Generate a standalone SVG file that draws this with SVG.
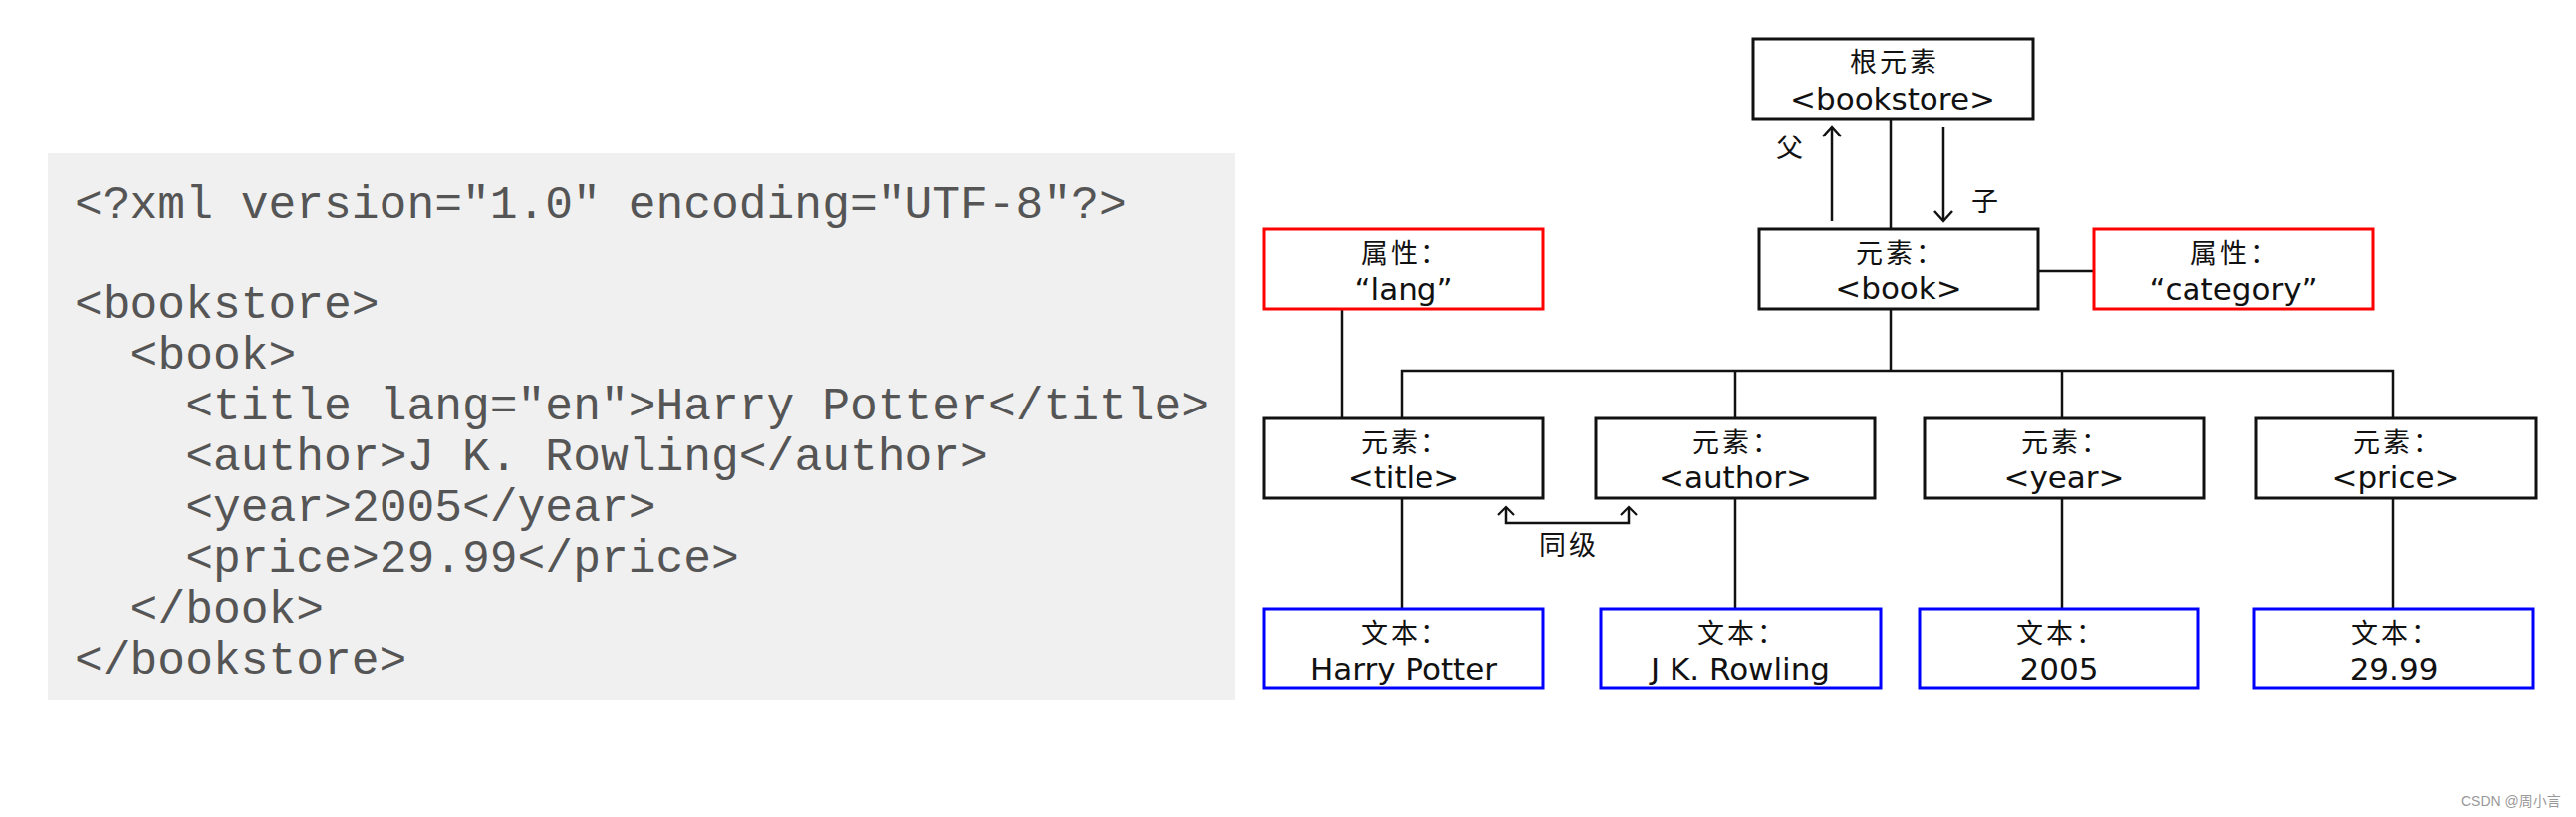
<svg xmlns="http://www.w3.org/2000/svg" width="2586" height="820" viewBox="0 0 2586 820">
<defs>
<style>
.code{font-family:"Liberation Mono","Courier New",monospace;font-size:46.3px;fill:#555555;}
.box{fill:#ffffff;stroke:#111111;stroke-width:3;}
.attr{fill:#ffffff;stroke:#ff0000;stroke-width:3;}
.txt{fill:#ffffff;stroke:#0000ff;stroke-width:3;}
.cjk{font-family:"Noto Sans CJK SC","DejaVu Sans",sans-serif;font-size:27px;letter-spacing:3px;fill:#111111;text-anchor:middle;}
.lat{font-family:"DejaVu Sans","Noto Sans CJK SC",sans-serif;font-size:31px;fill:#111111;text-anchor:middle;}
.ln{fill:none;stroke:#111111;stroke-width:2.5;}
.wm{font-family:"Liberation Sans","Noto Sans CJK SC",sans-serif;font-size:14px;fill:#999999;}
</style>
<marker id="arr" viewBox="-12 -12 24 24" refX="0" refY="0" markerUnits="userSpaceOnUse" markerWidth="24" markerHeight="24" orient="auto-start-reverse">
<path d="M-10,-9 L0,0 L-10,9" fill="none" stroke="#111111" stroke-width="2.5"/>
</marker>
<marker id="arrS" viewBox="-12 -12 24 24" refX="0" refY="0" markerUnits="userSpaceOnUse" markerWidth="24" markerHeight="24" orient="auto-start-reverse">
<path d="M-8,-8 L0,0 L-8,8" fill="none" stroke="#111111" stroke-width="2.2"/>
</marker>
</defs>
<rect x="0" y="0" width="2586" height="820" fill="#ffffff"/>

<g id="code">
<rect x="48" y="154" width="1192" height="549" fill="#f0f0f0"/>
<text class="code" x="75" y="219">&lt;?xml version="1.0" encoding="UTF-8"?&gt;</text>
<text class="code" x="75" y="319">&lt;bookstore&gt;</text>
<text class="code" x="130.6" y="370">&lt;book&gt;</text>
<text class="code" x="186.2" y="421">&lt;title lang="en"&gt;Harry Potter&lt;/title&gt;</text>
<text class="code" x="186.2" y="472">&lt;author&gt;J K. Rowling&lt;/author&gt;</text>
<text class="code" x="186.2" y="523">&lt;year&gt;2005&lt;/year&gt;</text>
<text class="code" x="186.2" y="574">&lt;price&gt;29.99&lt;/price&gt;</text>
<text class="code" x="130.6" y="625">&lt;/book&gt;</text>
<text class="code" x="75" y="676">&lt;/bookstore&gt;</text>
</g>

<g id="connectors">
<line class="ln" x1="1898" y1="119" x2="1898" y2="230"/>
<line class="ln" x1="1839" y1="222" x2="1839" y2="127" marker-end="url(#arr)"/>
<line class="ln" x1="1951" y1="127" x2="1951" y2="222" marker-end="url(#arr)"/>
<line class="ln" x1="2046" y1="272" x2="2102" y2="272"/>
<line class="ln" x1="1347" y1="310" x2="1347" y2="420"/>
<line class="ln" x1="1898" y1="310" x2="1898" y2="372"/>
<polyline class="ln" points="1407,420 1407,372 2402,372 2402,420"/>
<line class="ln" x1="1742" y1="372" x2="1742" y2="420"/>
<line class="ln" x1="2070" y1="372" x2="2070" y2="420"/>
<line class="ln" x1="1407" y1="500" x2="1407" y2="611"/>
<line class="ln" x1="1742" y1="500" x2="1742" y2="611"/>
<line class="ln" x1="2070" y1="500" x2="2070" y2="611"/>
<line class="ln" x1="2402" y1="500" x2="2402" y2="611"/>
<path class="ln" d="M1512,509 L1512,525 L1635,525 L1635,509" marker-start="url(#arrS)" marker-end="url(#arrS)"/>
<text class="cjk" x="1798" y="158">父</text>
<text class="cjk" x="1994" y="212">子</text>
<text class="cjk" x="1575" y="557">同级</text>
</g>

<g id="root">
<rect class="box" x="1760" y="39" width="281" height="80"/>
<text class="cjk" x="1902" y="72">根元素</text>
<text class="lat" x="1900" y="110">&lt;bookstore&gt;</text>
</g>
<g id="book">
<rect class="box" x="1766" y="230" width="280" height="80"/>
<text class="cjk" x="1908" y="264">元素：</text>
<text class="lat" x="1906" y="300">&lt;book&gt;</text>
</g>
<g id="attr-lang">
<rect class="attr" x="1269" y="230" width="280" height="80"/>
<text class="cjk" x="1411" y="264">属性：</text>
<text class="lat" x="1409" y="301">“lang”</text>
</g>
<g id="attr-category">
<rect class="attr" x="2102" y="230" width="280" height="80"/>
<text class="cjk" x="2244" y="264">属性：</text>
<text class="lat" x="2242" y="301">“category”</text>
</g>
<g id="el-title">
<rect class="box" x="1269" y="420" width="280" height="80"/>
<text class="cjk" x="1411" y="454">元素：</text>
<text class="lat" x="1409" y="490">&lt;title&gt;</text>
</g>
<g id="el-author">
<rect class="box" x="1602" y="420" width="280" height="80"/>
<text class="cjk" x="1744" y="454">元素：</text>
<text class="lat" x="1742" y="490">&lt;author&gt;</text>
</g>
<g id="el-year">
<rect class="box" x="1932" y="420" width="281" height="80"/>
<text class="cjk" x="2074" y="454">元素：</text>
<text class="lat" x="2072" y="490">&lt;year&gt;</text>
</g>
<g id="el-price">
<rect class="box" x="2265" y="420" width="281" height="80"/>
<text class="cjk" x="2407" y="454">元素：</text>
<text class="lat" x="2405" y="490">&lt;price&gt;</text>
</g>
<g id="txt-title">
<rect class="txt" x="1269" y="611" width="280" height="80"/>
<text class="cjk" x="1411" y="645">文本：</text>
<text class="lat" x="1409" y="682">Harry Potter</text>
</g>
<g id="txt-author">
<rect class="txt" x="1607" y="611" width="281" height="80"/>
<text class="cjk" x="1749" y="645">文本：</text>
<text class="lat" x="1747" y="682">J K. Rowling</text>
</g>
<g id="txt-year">
<rect class="txt" x="1927" y="611" width="280" height="80"/>
<text class="cjk" x="2069" y="645">文本：</text>
<text class="lat" x="2067" y="682">2005</text>
</g>
<g id="txt-price">
<rect class="txt" x="2263" y="611" width="280" height="80"/>
<text class="cjk" x="2405" y="645">文本：</text>
<text class="lat" x="2403" y="682">29.99</text>
</g>

<text class="wm" x="2471" y="809">CSDN @周小言</text>
</svg>
